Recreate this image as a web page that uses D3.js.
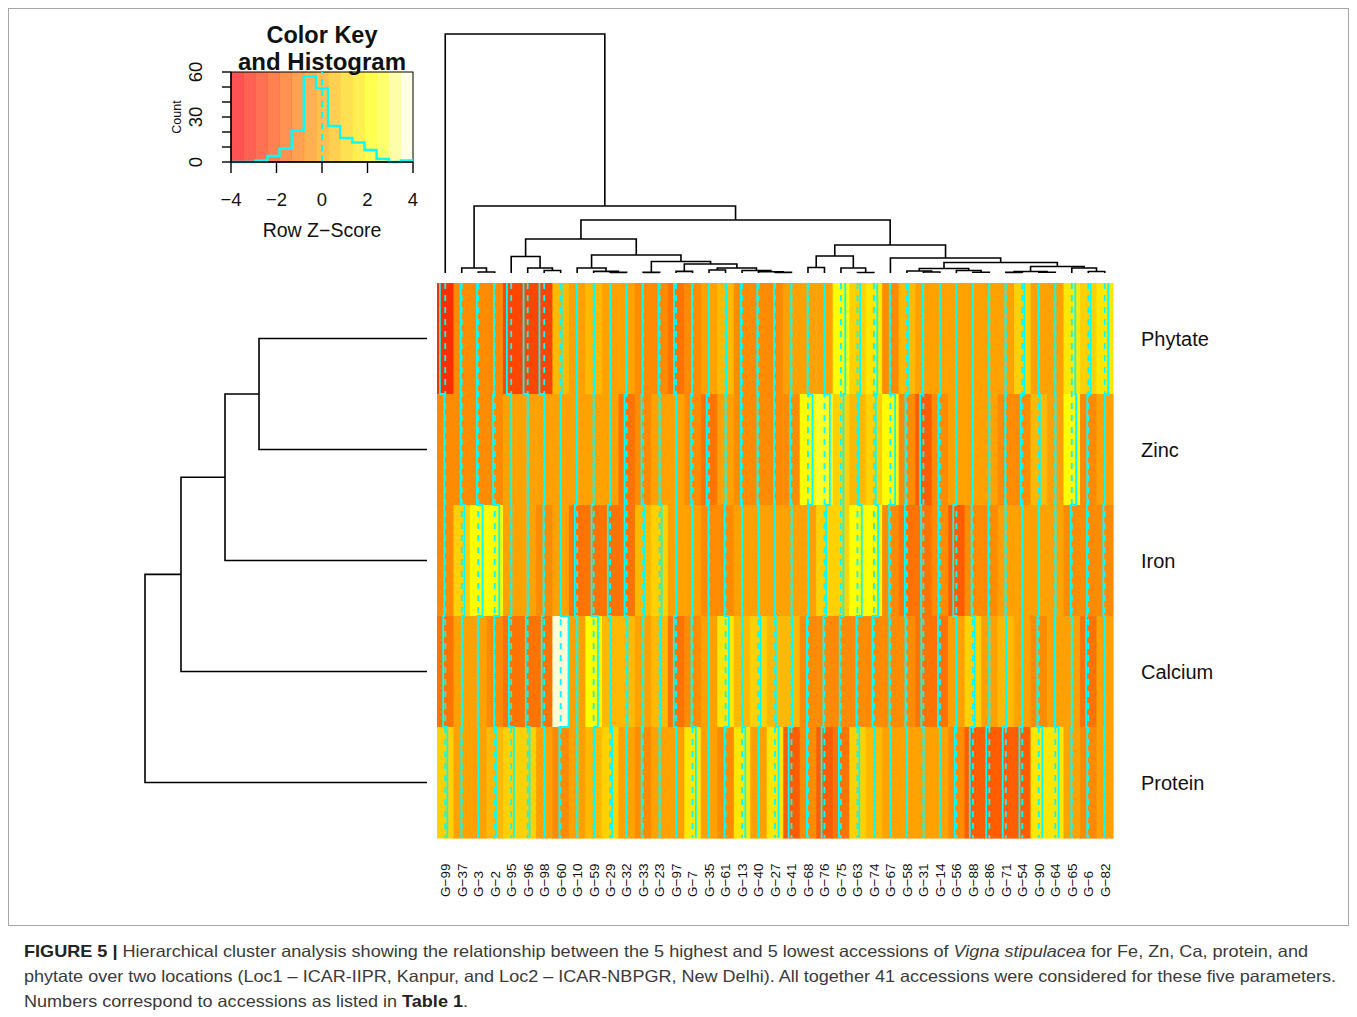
<!DOCTYPE html>
<html>
<head>
<meta charset="utf-8">
<script src="https://cdn.jsdelivr.net/npm/d3@7"></script>
<style>
  body { margin: 0; background: #fff; }
  svg text { font-family: "Liberation Sans", Arial, Helvetica, sans-serif; }
</style>
</head>
<body>
<svg id="chart" width="1357" height="1017"></svg>
<script>
// accessions in dendrogram order (left to right)
let accessions = ["G-99", "G-37", "G-3", "G-2", "G-95", "G-96", "G-98", "G-60", "G-10", "G-59",
  "G-29", "G-32", "G-33", "G-23", "G-97", "G-7", "G-35", "G-61", "G-13", "G-40",
  "G-27", "G-41", "G-68", "G-76", "G-75", "G-63", "G-74", "G-67", "G-58", "G-31",
  "G-14", "G-56", "G-88", "G-86", "G-71", "G-54", "G-90", "G-64", "G-65", "G-6", "G-82"];
let traits = ["Phytate", "Zinc", "Iron", "Calcium", "Protein"];

// row z-scores
let phytate = [-2.6, -0.5, -0.6, -0.4, -2.1, -2.0, -2.3, 0.5, -0.2, 0.4, 0.1, 0.0, -0.3, -0.5, -1.0, -0.3, 0.0, 0.6, -0.5, -0.6,
  -0.5, -0.1, -0.2, 0.1, 2.1, 1.3, 1.6, -0.3, 0.5, -0.2, 0.0, -0.2, 0.1, -0.1, -0.2, 1.0, -0.2, 0.0, 1.7, 1.1, 1.7];
let zinc = [-0.5, -0.5, -0.6, -0.75, 0.0, 0.0, 0.1, 0.1, -0.2, 0.0, -0.1, -1.0, -0.75, 0.0, 0.1, -0.7, -1.1, 0.0, -0.5, -0.5,
  -0.5, -0.7, 2.2, 2.6, 1.2, 0.6, 0.9, 2.3, -0.7, -1.6, -0.75, -0.2, 0.0, 0.0, -0.3, -0.75, 0.5, 0.1, 2.1, -0.5, 0.1];
let iron = [-0.5, 1.3, 2.1, 2.2, 0.1, 0.0, -0.3, 0.1, -1.1, -1.0, -1.1, -1.0, 0.6, 1.0, 0.1, -0.1, -0.3, -0.5, 0.0, 0.1,
  0.0, 0.1, 0.1, 0.9, 1.2, 2.1, 2.0, -0.6, -1.0, -1.1, -0.75, -1.5, -0.6, -0.5, -0.2, 0.0, 0.1, 0.1, -0.5, -0.6, -0.7];
let calcium = [-1.0, 0.1, -0.2, -0.3, -1.1, -0.9, -1.2, 3.8, 0.1, 2.1, 0.4, 0.4, 0.1, 0.6, -1.1, -0.5, 0.0, 1.6, 0.5, 1.0,
  0.4, 0.5, -0.5, -0.5, -0.6, -0.5, -0.7, -0.5, -0.7, -1.0, -0.9, 0.0, 0.9, 0.0, 0.4, 0.0, -0.7, -0.2, 0.0, -1.0, 0.1];
let protein = [1.0, -0.2, 0.0, 0.6, 1.3, 0.9, 0.1, -0.6, 0.1, 0.4, 1.0, -0.2, -0.7, 0.0, 0.1, 1.6, -0.2, -0.5, 1.6, 0.1,
  1.7, -1.4, -0.5, -1.4, -1.0, 0.9, 0.5, 0.1, 0.1, 0.1, 0.0, -0.75, -1.5, -1.5, -1.5, -1.4, 1.7, 1.6, -0.2, -0.5, -0.2];

// colour key histogram (15 bins from -4 to 4)
let histCounts = [0, 0, 1, 4, 9, 21, 57, 49, 24, 16, 13, 8, 2, 0, 1];
let keyTicks = [-4, -2, 0, 2, 4];
let countTicks = [0, 10, 20, 30, 40, 50, 60];
let countLabels = [0, 30, 60];

// dendrograms: [height, left, right], leaves are labels
let rowTree = [282, [246, [202, [168, "Phytate", "Zinc"], "Iron"], "Calcium"], "Protein"];
let colTree = [239, "G-99",
  [67,
    [5, "G-37", [1, "G-3", "G-2"]],
    [53,
      [34,
        [16.5, "G-95", [5, "G-96", [2.5, "G-98", "G-60"]]],
        [18,
          [5, "G-10", [1.6, "G-59", [0.6, "G-29", "G-32"]]],
          [11.5, [0.6, "G-33", "G-23"],
            [9, [1.6, "G-97", "G-7"],
              [5, [3, "G-35", "G-61"], [2.5, "G-13", [1.3, "G-40", [0.6, "G-27", "G-41"]]]]]]]],
      [28,
        [17, [5.5, "G-68", "G-76"], [5, "G-75", [0.5, "G-63", "G-74"]]],
        [15, "G-67",
          [10.5,
            [4.5, [2, "G-58", [1, "G-31", "G-14"]], [2.5, "G-56", [0.8, "G-88", "G-86"]]],
            [6.5, [1.5, [0.6, "G-71", "G-54"], [0.8, "G-90", "G-64"]], [5, "G-65", [1.5, "G-6", "G-82"]]]]]]]]];

let zTable = { Phytate: phytate, Zinc: zinc, Iron: iron, Calcium: calcium, Protein: protein };

let svg = d3.select("#chart");

// R heat.colors(15) with 16 breaks over [-4, 4]
let heatColors = d3.range(12).map(i => d3.hsl(i / 11 * 60, 1, 0.5).formatHex())
  .concat([5 / 6, 1 / 2, 1 / 6].map(s => d3.rgb(255, 255, Math.round((1 - s) * 255)).formatHex()));
let breaks = d3.range(16).map(i => -4 + i * 8 / 15);
let colorScale = d3.scaleThreshold().domain(breaks.slice(1, 15)).range(heatColors);

// frame round the figure
svg.append("rect")
  .attr("x", 8.5).attr("y", 8.5).attr("width", 1340).attr("height", 917)
  .attr("fill", "none").attr("stroke", "#a6a6a6").attr("stroke-width", 1);

// ---- heatmap ----
let x = d3.scaleBand().domain(accessions).range([437, 1113]);
let y = d3.scaleBand().domain(traits).range([283, 838]);
let traceScale = d3.scaleLinear().domain([-4, 4]).range([0, 1]);

let cells = [];
traits.forEach(t => zTable[t].forEach((v, i) => cells.push({ trait: t, acc: accessions[i], z: v })));

svg.append("g").selectAll("rect")
  .data(cells).enter()
  .append("rect")
  .attr("x", d => x(d.acc))
  .attr("y", d => y(d.trait))
  .attr("width", x.bandwidth() + 0.6)
  .attr("height", y.bandwidth() + 0.6)
  .attr("fill", d => colorScale(d.z));

let traceG = svg.append("g");
accessions.forEach((acc, i) => {
  let left = x(acc), w = x.bandwidth();
  // dashed reference line at z = 0
  traceG.append("line")
    .attr("x1", left + traceScale(0) * w).attr("x2", left + traceScale(0) * w)
    .attr("y1", y.range()[0]).attr("y2", y.range()[1])
    .attr("stroke", "#00ffff").attr("stroke-width", 1.8).attr("stroke-dasharray", "6,6");
  // solid step trace
  let p = d3.path();
  traits.forEach((t, r) => {
    let tx = left + traceScale(zTable[t][i]) * w;
    if (r == 0) p.moveTo(tx, y(t)); else p.lineTo(tx, y(t));
    p.lineTo(tx, y(t) + y.bandwidth());
  });
  traceG.append("path").attr("d", p.toString())
    .attr("fill", "none").attr("stroke", "#00ffff").attr("stroke-width", 1.8);
});

// row labels
svg.append("g").selectAll("text")
  .data(traits).enter()
  .append("text")
  .attr("x", 1141)
  .attr("y", d => y(d) + y.bandwidth() / 2)
  .attr("dy", "0.35em")
  .attr("font-size", 20)
  .attr("fill", "#111")
  .text(d => d);

// column labels, rotated
svg.append("g").selectAll("text")
  .data(accessions).enter()
  .append("text")
  .attr("transform", d => "translate(" + (x(d) + x.bandwidth() / 2) + ",897) rotate(-90)")
  .attr("dy", "0.36em")
  .attr("font-size", 13.5)
  .attr("fill", "#111")
  .text(d => d.replace("-", "\u2212"));

// ---- dendrograms ----
let colH = d3.scaleLinear().domain([0, colTree[0]]).range([273, 34]);
let rowH = d3.scaleLinear().domain([0, rowTree[0]]).range([427, 145]);

function drawTree(node, pos, hScale, vertical, g) {
  if (typeof node == "string") return { p: pos(node), h: 0 };
  let a = drawTree(node[1], pos, hScale, vertical, g);
  let b = drawTree(node[2], pos, hScale, vertical, g);
  let p = d3.path();
  if (vertical) {
    p.moveTo(a.p, hScale(a.h)); p.lineTo(a.p, hScale(node[0]));
    p.lineTo(b.p, hScale(node[0])); p.lineTo(b.p, hScale(b.h));
  } else {
    p.moveTo(hScale(a.h), a.p); p.lineTo(hScale(node[0]), a.p);
    p.lineTo(hScale(node[0]), b.p); p.lineTo(hScale(b.h), b.p);
  }
  g.append("path").attr("d", p.toString())
    .attr("fill", "none").attr("stroke", "#000").attr("stroke-width", 1.6);
  return { p: (a.p + b.p) / 2, h: node[0] };
}
drawTree(colTree, d => x(d) + x.bandwidth() / 2, colH, true, svg.append("g"));
drawTree(rowTree, d => y(d) + y.bandwidth() / 2, rowH, false, svg.append("g"));

// ---- colour key and histogram ----
let kx = d3.scaleLinear().domain([-4, 4]).range([231, 413]);
let ky = d3.scaleLinear().domain([0, 60]).range([162, 72]);
let key = svg.append("g");

key.selectAll("rect.band")
  .data(d3.range(15)).enter()
  .append("rect")
  .attr("class", "band")
  .attr("x", i => kx(breaks[i]))
  .attr("y", ky(60))
  .attr("width", i => kx(breaks[i + 1]) - kx(breaks[i]) + 0.4)
  .attr("height", ky(0) - ky(60))
  .attr("fill", i => heatColors[i])
  .attr("fill-opacity", 0.68);

key.append("rect")
  .attr("x", kx(-4)).attr("y", ky(60))
  .attr("width", kx(4) - kx(-4)).attr("height", ky(0) - ky(60))
  .attr("fill", "none").attr("stroke", "#000").attr("stroke-width", 1);

key.append("line")
  .attr("x1", kx(0)).attr("x2", kx(0)).attr("y1", ky(0)).attr("y2", ky(60))
  .attr("stroke", "#00ffff").attr("stroke-width", 2).attr("stroke-dasharray", "6,5");

let histPts = histCounts.map((c, i) => [breaks[i], c]).concat([[4, histCounts[14]]]);
key.append("path")
  .datum(histPts)
  .attr("d", d3.line().x(d => kx(d[0])).y(d => ky(d[1])).curve(d3.curveStepAfter))
  .attr("fill", "none").attr("stroke", "#00ffff").attr("stroke-width", 2.4);

// x axis of the key
key.append("line").attr("x1", kx(-4)).attr("x2", kx(4)).attr("y1", ky(0)).attr("y2", ky(0))
  .attr("stroke", "#000").attr("stroke-width", 1.4);
key.selectAll("line.xt").data(keyTicks).enter().append("line")
  .attr("x1", d => kx(d)).attr("x2", d => kx(d)).attr("y1", ky(0)).attr("y2", ky(0) + 11)
  .attr("stroke", "#000").attr("stroke-width", 1.4);
key.selectAll("text.xl").data(keyTicks).enter().append("text")
  .attr("x", d => kx(d)).attr("y", 206)
  .attr("text-anchor", "middle").attr("font-size", 18.5).attr("fill", "#111")
  .text(d => d < 0 ? "\u2212" + Math.abs(d) : d);
key.append("text")
  .attr("x", kx(0)).attr("y", 237)
  .attr("text-anchor", "middle").attr("font-size", 19.5).attr("fill", "#111")
  .text("Row Z\u2212Score");

// y axis of the key
key.append("line").attr("x1", kx(-4)).attr("x2", kx(-4)).attr("y1", ky(0)).attr("y2", ky(60))
  .attr("stroke", "#000").attr("stroke-width", 1.4);
key.selectAll("line.yt").data(countTicks).enter().append("line")
  .attr("x1", kx(-4) - 9).attr("x2", kx(-4)).attr("y1", d => ky(d)).attr("y2", d => ky(d))
  .attr("stroke", "#000").attr("stroke-width", 1.4);
key.selectAll("text.yl").data(countLabels).enter().append("text")
  .attr("transform", d => "translate(202," + ky(d) + ") rotate(-90)")
  .attr("text-anchor", "middle").attr("font-size", 18.5).attr("fill", "#111")
  .text(d => d);
key.append("text")
  .attr("transform", "translate(181," + ky(30) + ") rotate(-90)")
  .attr("text-anchor", "middle").attr("font-size", 12.5).attr("fill", "#111")
  .text("Count");

// key title
key.append("text").attr("x", kx(0)).attr("y", 43)
  .attr("text-anchor", "middle").attr("font-size", 23.5).attr("font-weight", "bold").attr("fill", "#111")
  .text("Color Key");
key.append("text").attr("x", kx(0)).attr("y", 70)
  .attr("text-anchor", "middle").attr("font-size", 24).attr("font-weight", "bold").attr("fill", "#111")
  .text("and Histogram");

// ---- caption ----
let cap = svg.append("g").attr("font-size", 16.5).attr("fill", "#3a3a3a");
let l1 = cap.append("text").attr("x", 24).attr("y", 957)
  .attr("textLength", 1284).attr("lengthAdjust", "spacingAndGlyphs");
l1.append("tspan").attr("font-weight", "bold").attr("fill", "#222").text("FIGURE 5 | ");
l1.append("tspan").text("Hierarchical cluster analysis showing the relationship between the 5 highest and 5 lowest accessions of ");
l1.append("tspan").attr("font-style", "italic").text("Vigna stipulacea");
l1.append("tspan").text(" for Fe, Zn, Ca, protein, and");
cap.append("text").attr("x", 24).attr("y", 982)
  .attr("textLength", 1312).attr("lengthAdjust", "spacingAndGlyphs")
  .text("phytate over two locations (Loc1 \u2013 ICAR-IIPR, Kanpur, and Loc2 \u2013 ICAR-NBPGR, New Delhi). All together 41 accessions were considered for these five parameters.");
let l3 = cap.append("text").attr("x", 24).attr("y", 1007)
  .attr("textLength", 444).attr("lengthAdjust", "spacingAndGlyphs");
l3.append("tspan").text("Numbers correspond to accessions as listed in ");
l3.append("tspan").attr("font-weight", "bold").attr("fill", "#222").text("Table 1");
l3.append("tspan").text(".");
</script>
</body>
</html>
